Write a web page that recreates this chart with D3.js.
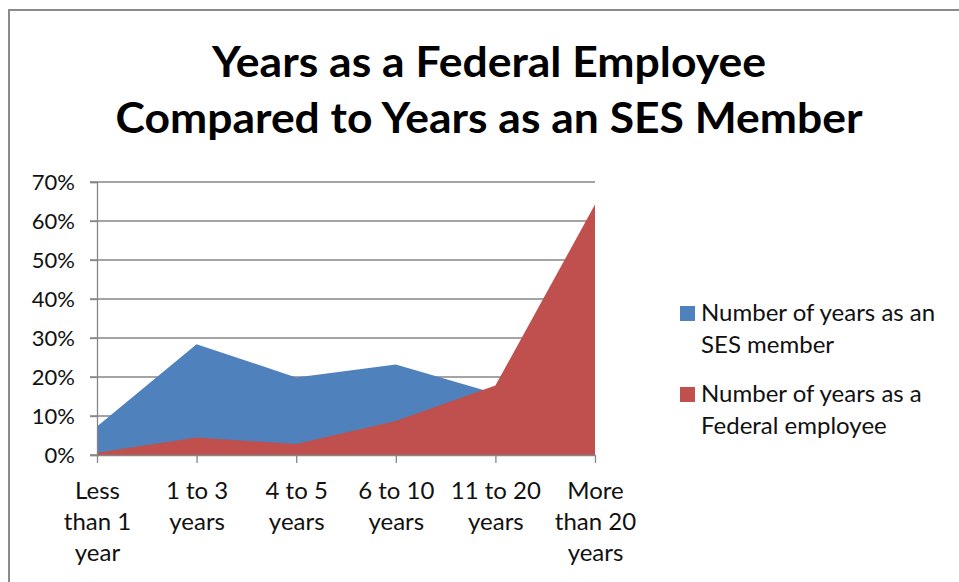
<!DOCTYPE html>
<html>
<head>
<meta charset="utf-8">
<script src="https://cdn.jsdelivr.net/npm/d3@7"></script>
<style>
  html, body { margin: 0; padding: 0; background: #fff; }
  svg { display: block; }
</style>
</head>
<body>
<div id="chart"></div>
<script>
const categories = ['Less than 1 year', '1 to 3 years', '4 to 5 years', '6 to 10 years', '11 to 20 years', 'More than 20 years'];
const categoryLines = [
  ['Less', 'than 1', 'year'],
  ['1 to 3', 'years'],
  ['4 to 5', 'years'],
  ['6 to 10', 'years'],
  ['11 to 20', 'years'],
  ['More', 'than 20', 'years']
];
const sesValues = [0.073, 0.284, 0.199, 0.232, 0.158, 0.054];
const fedValues = [0.006, 0.045, 0.028, 0.087, 0.178, 0.642];
const yTicks = [0, 0.1, 0.2, 0.3, 0.4, 0.5, 0.6, 0.7];
const seriesNames = [
  ['Number of years as an', 'SES member'],
  ['Number of years as a', 'Federal employee']
];
const titleLines = ['Years as a Federal Employee', 'Compared to Years as an SES Member'];

const width = 959, height = 582;
const font = 'Lato, "Open Sans", sans-serif';
const colors = ['#4F81BD', '#C0504D'];
const gridColor = '#868686';

const svg = d3.select('#chart').append('svg')
  .attr('width', width)
  .attr('height', height);

// chart frame
svg.append('path')
  .attr('d', `M${width + 2},10 H9 V${height + 2}`)
  .attr('fill', 'none')
  .attr('stroke', '#8a8a8a')
  .attr('stroke-width', 2);

// title
const titleWidths = [554, 747];
svg.append('g').selectAll('text')
  .data(titleLines)
  .enter()
  .append('text')
  .attr('x', 489)
  .attr('y', (d, i) => 77 + i * 56)
  .attr('text-anchor', 'middle')
  .attr('font-family', font)
  .attr('font-weight', 'bold')
  .attr('font-size', 42)
  .attr('textLength', (d, i) => titleWidths[i])
  .attr('lengthAdjust', 'spacingAndGlyphs')
  .attr('fill', '#000')
  .text(d => d);

const x = d3.scalePoint().domain(categories).range([97, 595]);
const y = d3.scaleLinear().domain([0, 0.7]).range([455, 182]);

// gridlines
svg.append('g').selectAll('line')
  .data(yTicks)
  .enter()
  .append('line')
  .attr('x1', 90)
  .attr('x2', 595)
  .attr('y1', d => y(d))
  .attr('y2', d => y(d))
  .attr('stroke', gridColor)
  .attr('stroke-width', 1.3);

// areas: SES drawn first, Federal in front
const rows = [sesValues, fedValues];
const area = d3.area()
  .x((d, i) => x(categories[i]))
  .y0(y(0))
  .y1(d => y(d));

svg.append('g').selectAll('path')
  .data(rows)
  .enter()
  .append('path')
  .attr('d', d => area(d))
  .attr('fill', (d, i) => colors[i]);

// y axis
const yAxis = svg.append('g')
  .attr('transform', `translate(${x(categories[0])},0)`)
  .call(d3.axisLeft(y).tickValues(yTicks).tickSize(7).tickPadding(15).tickFormat(d3.format('.0%')));
yAxis.select('.domain').attr('stroke', gridColor).attr('stroke-width', 1.3);
yAxis.selectAll('.tick line').attr('stroke', gridColor).attr('stroke-width', 1.3);
yAxis.selectAll('.tick text')
  .attr('font-family', font)
  .attr('font-size', 22)
  .attr('fill', '#111');

// x axis
const xAxis = svg.append('g')
  .attr('transform', `translate(0,${y(0)})`)
  .call(d3.axisBottom(x).tickSize(8).tickSizeOuter(0));
xAxis.select('.domain').attr('stroke', gridColor).attr('stroke-width', 1.3);
xAxis.selectAll('.tick line').attr('stroke', gridColor).attr('stroke-width', 1.3);
xAxis.selectAll('.tick text').each(function(d, i) {
  const t = d3.select(this)
    .text(null)
    .attr('y', 0)
    .attr('dy', null)
    .attr('font-family', font)
    .attr('font-size', 24)
    .attr('fill', '#111');
  categoryLines[i].forEach((line, j) => {
    t.append('tspan')
      .attr('x', 0)
      .attr('y', 44 + j * 31)
      .text(line);
  });
});

// legend
const legend = svg.append('g').selectAll('g')
  .data(seriesNames)
  .enter()
  .append('g')
  .attr('transform', (d, i) => `translate(680,${306 + i * 81})`);

legend.append('rect')
  .attr('width', 15)
  .attr('height', 15)
  .attr('fill', (d, i) => colors[i]);

legend.append('text')
  .attr('font-family', font)
  .attr('font-size', 24)
  .attr('fill', '#111')
  .selectAll('tspan')
  .data(d => d)
  .enter()
  .append('tspan')
  .attr('x', 21)
  .attr('y', (d, j) => 15 + j * 32)
  .text(d => d);
</script>
</body>
</html>
